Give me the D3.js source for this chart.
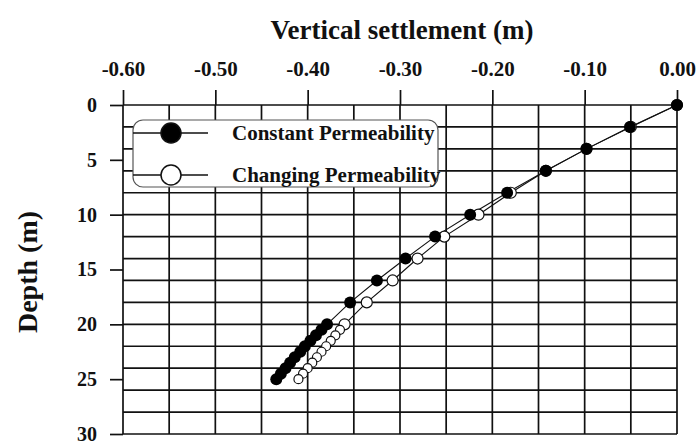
<!DOCTYPE html>
<html>
<head>
<meta charset="utf-8">
<script src="https://cdn.jsdelivr.net/npm/d3@7"></script>
<style>
  body { margin: 0; background: #fff; }
  svg { display: block; }
  text { font-family: "Liberation Serif", "Times New Roman", serif; font-weight: bold; fill: #111; }
</style>
</head>
<body>
<svg id="chart" width="700" height="445"></svg>
<script>
// Data
const depth = [0, 2, 4, 6, 8, 10, 12, 14, 16, 18, 20, 20.5, 21, 21.5, 22, 22.5, 23, 23.5, 24, 24.5, 25];
const constantPerm = [0, -0.051, -0.098, -0.142, -0.184, -0.224, -0.262, -0.294, -0.325, -0.354, -0.379,
  -0.385, -0.391, -0.397, -0.403, -0.408, -0.414, -0.419, -0.424, -0.429, -0.434];
const changingPerm = [0, -0.050, -0.098, -0.142, -0.180, -0.215, -0.252, -0.281, -0.308, -0.336, -0.360,
  -0.365, -0.370, -0.375, -0.380, -0.385, -0.390, -0.395, -0.400, -0.405, -0.410];

const xTicks = [-0.6, -0.5, -0.4, -0.3, -0.2, -0.1, 0];
const depthTicks = [0, 5, 10, 15, 20, 25, 30];
const seriesNames = ["Constant Permeability", "Changing Permeability"];

const margin = { top: 105, right: 23, bottom: 11, left: 123 };
const width = 700 - margin.left - margin.right;
const height = 445 - margin.top - margin.bottom;

const svg = d3.select("#chart");
const g = svg.append("g")
  .attr("transform", "translate(" + margin.left + "," + margin.top + ")");

const x = d3.scaleLinear().domain([-0.6, 0]).range([0, width]);
const y = d3.scaleLinear().domain([0, 30]).range([0, height]);

// grid
g.append("g").selectAll("line.vg")
  .data(x.ticks(12))
  .enter().append("line")
  .attr("x1", d => x(d)).attr("x2", d => x(d))
  .attr("y1", 0).attr("y2", height)
  .attr("stroke", "#111").attr("stroke-width", 1.7);

g.append("g").selectAll("line.hg")
  .data(y.ticks(12))
  .enter().append("line")
  .attr("x1", 0).attr("x2", width)
  .attr("y1", d => y(d)).attr("y2", d => y(d))
  .attr("stroke", "#111").attr("stroke-width", 1.7);

// axes
const xAxis = g.append("g")
  .call(d3.axisTop(x).tickValues(xTicks).tickSize(15).tickPadding(14)
    .tickFormat(d => d.toFixed(2)));
xAxis.select(".domain").remove();
xAxis.selectAll(".tick line").attr("stroke", "#111").attr("stroke-width", 1.7);
xAxis.selectAll(".tick text").style("font-size", "21px").attr("fill", "#111");

const yAxis = g.append("g")
  .call(d3.axisLeft(y).tickValues(depthTicks).tickSize(13).tickPadding(13));
yAxis.select(".domain").remove();
yAxis.selectAll(".tick line").attr("stroke", "#111").attr("stroke-width", 1.7);
yAxis.selectAll(".tick text").style("font-size", "20px").attr("fill", "#111");

// titles
svg.append("text")
  .attr("x", 402).attr("y", 39)
  .attr("text-anchor", "middle")
  .style("font-size", "27px")
  .text("Vertical settlement (m)");

svg.append("text")
  .attr("transform", "rotate(-90)")
  .attr("x", -272).attr("y", 37)
  .attr("text-anchor", "middle")
  .style("font-size", "28px")
  .text("Depth (m)");

// series
const line = d3.line()
  .x(d => x(d[0]))
  .y(d => y(d[1]));

const constPts = constantPerm.map((v, i) => [v, depth[i]]);
const changePts = changingPerm.map((v, i) => [v, depth[i]]);

g.append("path").datum(changePts)
  .attr("d", line).attr("fill", "none")
  .attr("stroke", "#111").attr("stroke-width", 1.1);
g.append("path").datum(constPts)
  .attr("d", line).attr("fill", "none")
  .attr("stroke", "#111").attr("stroke-width", 1.1);

// open markers first, filled ones sit on top where they overlap
g.selectAll(".chp")
  .data(changePts)
  .enter().append("circle")
  .attr("class", "chp")
  .attr("cx", d => x(d[0])).attr("cy", d => y(d[1]))
  .attr("r", d => d[1] > 20 ? 4.5 : 5.5)
  .attr("fill", "#fff")
  .attr("stroke", "#111").attr("stroke-width", 1.2);

g.selectAll(".cp")
  .data(constPts)
  .enter().append("circle")
  .attr("class", "cp")
  .attr("cx", d => x(d[0])).attr("cy", d => y(d[1]))
  .attr("r", 6)
  .attr("fill", "#000");

// legend
const legend = svg.append("g").attr("transform", "translate(133,120)");
legend.append("rect")
  .attr("width", 305).attr("height", 67)
  .attr("rx", 10).attr("ry", 10)
  .attr("fill", "#fff")
  .attr("stroke", "#555").attr("stroke-width", 1.2);

const rows = legend.selectAll(".lg")
  .data(seriesNames)
  .enter().append("g")
  .attr("transform", (d, i) => "translate(0," + (13 + i * 42) + ")");

rows.append("line")
  .attr("x1", 0).attr("x2", 75)
  .attr("stroke", "#111").attr("stroke-width", 1.5);

rows.append("circle")
  .attr("cx", 38).attr("r", 10)
  .attr("fill", (d, i) => i == 0 ? "#000" : "#fff")
  .attr("stroke", "#111").attr("stroke-width", 1.5);

rows.append("text")
  .attr("x", 99).attr("dy", "0.35em")
  .style("font-size", "21px")
  .text(d => d);
</script>
</body>
</html>
